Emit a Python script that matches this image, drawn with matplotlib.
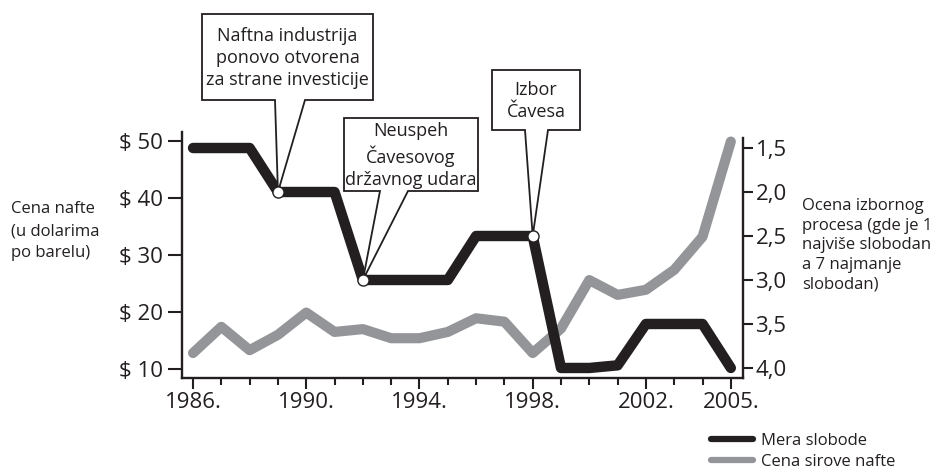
import matplotlib.pyplot as plt
from matplotlib.patches import Polygon

# data
years = list(range(1986, 2006))
freedom = [1.5, 1.5, 1.5, 2.0, 2.0, 2.0, 3.0, 3.0, 3.0, 3.0,
           2.5, 2.5, 2.5, 4.0, 4.0, 3.97, 3.5, 3.5, 3.5, 4.0]
oil_price = [12.8, 17.4, 13.3, 16.0, 19.9, 16.5, 17.0, 15.4, 15.4, 16.5,
             18.9, 18.3, 12.8, 17.1, 25.6, 23.0, 23.9, 27.4, 33.2, 49.9]
xtick_years = [1986, 1990, 1994, 1998, 2002, 2005]
left_ticks = [10, 20, 30, 40, 50]
right_ticks = [1.5, 2.0, 2.5, 3.0, 3.5, 4.0]
event_texts = ["Naftna industrija\nponovo otvorena\nza strane investicije",
               "Neuspeh\nČavesovog\ndržavnog udara",
               "Izbor\nČavesa"]
event_years = [1989, 1992, 1998]
legend_labels = ["Mera slobode", "Cena sirove nafte"]

BLACK = "#231f20"
GRAY = "#939598"
W, H = 951, 469

plt.rcParams['font.family'] = ['Open Sans', 'DejaVu Sans']
plt.rcParams['text.color'] = BLACK


def fx(x):
    return x / W


def fy(y):
    return 1 - y / H


fig = plt.figure(figsize=(W / 100, H / 100), dpi=100)
ax = fig.add_axes([fx(182), fy(378), (743 - 182) / W, (378 - 132) / H])
ax2 = ax.twinx()

l_oil, = ax.plot(years, oil_price, color=GRAY, lw=7.3,
                 solid_capstyle='round', solid_joinstyle='round', zorder=2)
l_free, = ax2.plot(years, freedom, color=BLACK, lw=7.5,
                   solid_capstyle='round', solid_joinstyle='round', zorder=2)

ax.set_xlim(1985.61, 2005.43)
ax.set_ylim(8.42, 51.58)
ax2.set_ylim(4.114, 1.318)

ax.set_xticks(xtick_years, [f"{y}." for y in xtick_years])
ax.set_xticks(years, minor=True)
ax.set_yticks(left_ticks, [f"$ {v}" for v in left_ticks])
ax2.set_yticks(right_ticks, [f"{v:.1f}".replace('.', ',') for v in right_ticks])

for a in (ax, ax2):
    for s in a.spines.values():
        s.set_visible(False)
        s.set_linewidth(1.7)
        s.set_color(BLACK)
ax.spines['left'].set_visible(True)
ax.spines['bottom'].set_visible(True)
ax2.spines['right'].set_visible(True)
ax2.spines['right'].set_bounds(4.114, 1.386)

ax.tick_params(axis='x', which='major', length=8, width=1.5, pad=2,
               labelsize=16, colors=BLACK)
ax.tick_params(axis='x', which='minor', length=5, width=1.5, colors=BLACK)
ax.tick_params(axis='y', length=10, width=1.5, pad=3.5, labelsize=16, colors=BLACK)
ax2.tick_params(axis='y', length=7, width=1.5, pad=2, labelsize=16, colors=BLACK)

# side captions
fig.text(fx(11), fy(201), "Cena nafte\n(u dolarima\npo barelu)", ha='left', va='top',
         fontsize=12, linespacing=1.5)
fig.text(fx(802), fy(198), "Ocena izbornog\nprocesa (gde je 1\nnajviše slobodan\na 7 najmanje\nslobodan)",
         ha='left', va='top', fontsize=12, linespacing=1.3)

# callout boxes (left, top, right, bottom) and pointer base in pixels
boxes = [(202, 14, 373, 100), (344, 118, 478, 191), (492, 70, 580, 130)]
bases = [(275, 305), (380, 408), (525, 548)]
fig.canvas.draw()
for txt, yr, (x0, y0, x1, y1), (b0, b1) in zip(event_texts, event_years, boxes, bases):
    val = freedom[years.index(yr)]
    tip = fig.transFigure.inverted().transform(ax2.transData.transform((yr, val)))
    pts = [(fx(x0), fy(y1)), (fx(b0), fy(y1)), tuple(tip), (fx(b1), fy(y1)),
           (fx(x1), fy(y1)), (fx(x1), fy(y0)), (fx(x0), fy(y0))]
    poly = Polygon(pts, closed=True, fc='white', ec=BLACK, lw=1.3,
                   transform=fig.transFigure, clip_on=False, zorder=5,
                   joinstyle='miter')
    ax2.add_patch(poly)
    ax2.text(fx((x0 + x1) / 2), fy((y0 + y1) / 2 + 1), txt, transform=fig.transFigure,
             ha='center', va='center', fontsize=13, linespacing=1.3, zorder=6,
             clip_on=False)
    ax2.plot([yr], [val], 'o', ms=8, mfc='white', mec=BLACK, mew=1.0,
             zorder=7, clip_on=False)

ax.set_xlim(1985.61, 2005.43)
ax2.set_ylim(4.114, 1.318)

leg = fig.legend([l_free, l_oil], legend_labels, loc='upper left',
                 bbox_to_anchor=(fx(711), fy(433)), frameon=False,
                 handlelength=2.5, handletextpad=0.5, labelspacing=0.3,
                 borderpad=0, borderaxespad=0, fontsize=12)
for ln in leg.get_lines():
    ln.set_linewidth(4.5)
    ln.set_solid_capstyle('round')

fig.savefig("out.png", dpi=100)
